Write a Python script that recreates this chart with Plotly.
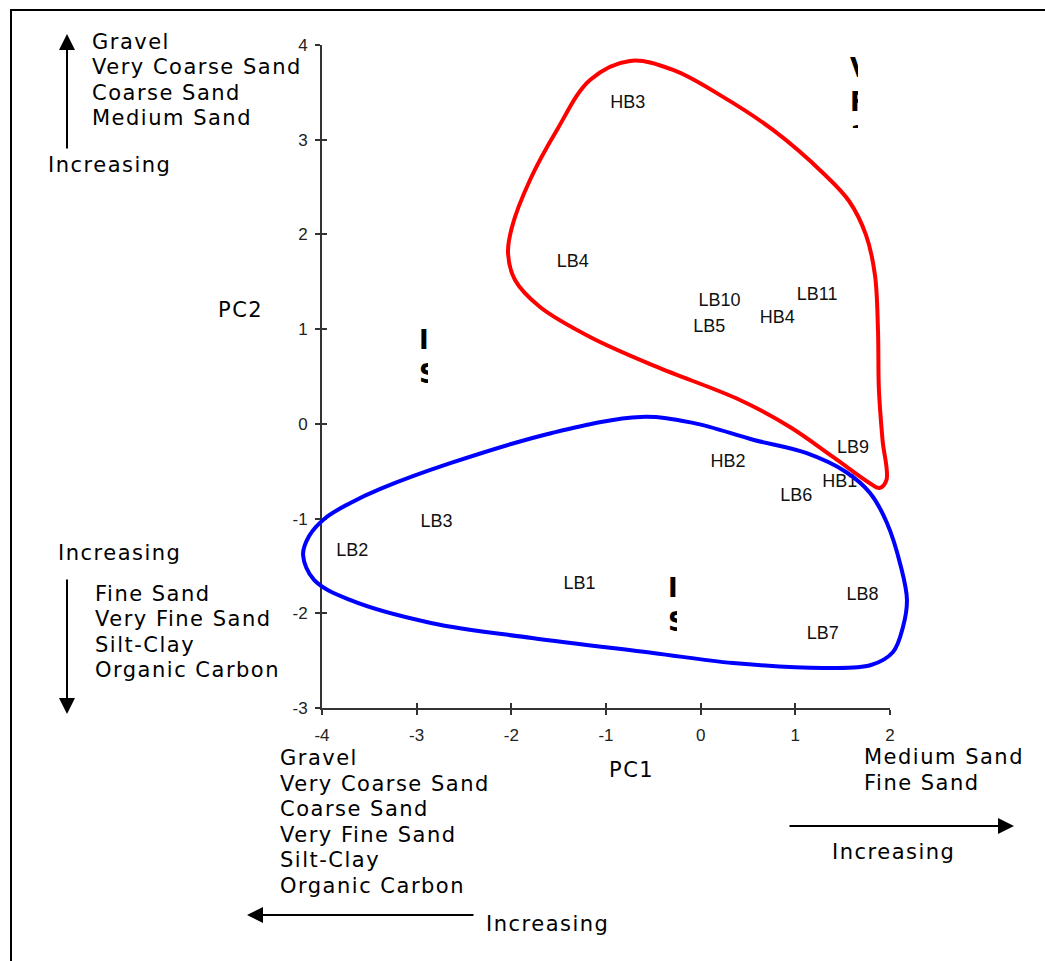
import plotly.graph_objects as go

# ---------------- data ----------------
point_names = ["HB3", "LB4", "LB10", "LB11", "HB4", "LB5", "LB9", "HB2",
               "HB1", "LB6", "LB3", "LB2", "LB1", "LB8", "LB7"]
pc1_scores = [-0.77, -1.35, 0.20, 1.23, 0.81, 0.09, 1.61, 0.29,
              1.47, 1.01, -2.79, -3.68, -1.28, 1.71, 1.29]
pc2_scores = [3.38, 1.70, 1.29, 1.35, 1.11, 1.02, -0.26, -0.41,
              -0.62, -0.77, -1.04, -1.35, -1.70, -1.81, -2.22]

red_outline_x = [-0.746, -0.292, 0.236, 0.764, 1.292, 1.567, 1.746, 1.841, 1.873,
                 1.883, 1.921, 1.963, 1.889, 1.783, 1.398, 0.943, 0.415, -0.462,
                 -1.169, -1.697, -1.961, -2.035, -1.993, -1.803, -1.518, -1.169]
red_outline_y = [3.832, 3.737, 3.452, 3.103, 2.649, 2.353, 1.995, 1.572, 0.991,
                 0.358, -0.170, -0.592, -0.677, -0.624, -0.349, -0.033, 0.252, 0.601,
                 0.918, 1.234, 1.519, 1.804, 2.079, 2.575, 3.103, 3.631]

blue_outline_x = [-0.630, -0.081, 0.563, 1.113, 1.535, 1.789, 1.968, 2.116, 2.179,
                  2.137, 2.032, 1.799, 1.324, 0.341, -0.504, -1.782, -2.849, -3.704,
                  -4.084, -4.200, -4.136, -3.964, -3.700, -3.384, -2.637, -1.570]
blue_outline_y = [0.073, 0.010, -0.170, -0.307, -0.508, -0.730, -1.046, -1.511, -1.859,
                  -2.144, -2.408, -2.546, -2.577, -2.525, -2.419, -2.261, -2.102, -1.859,
                  -1.648, -1.384, -1.184, -0.994, -0.835, -0.687, -0.413, -0.096]

x_ticks = [-4, -3, -2, -1, 0, 1, 2]
y_ticks = [-3, -2, -1, 0, 1, 2, 3, 4]

pc2_up_vars = ["Gravel", "Very Coarse Sand", "Coarse Sand", "Medium Sand"]
pc2_down_vars = ["Fine Sand", "Very Fine Sand", "Silt-Clay", "Organic Carbon"]
pc1_left_vars = ["Gravel", "Very Coarse Sand", "Coarse Sand", "Very Fine Sand",
                 "Silt-Clay", "Organic Carbon"]
pc1_right_vars = ["Medium Sand", "Fine Sand"]

# ---------------- layout geometry (pixels) ----------------
W, H = 1045, 961
PL, PR = 280, 940          # plotting area (paper) left/right
AL, AR = 322, 890          # axis x extent (-4 .. 2)
T, B = 45, 708             # axis y extent (4 .. -3)
XMIN, XMAX = x_ticks[0], x_ticks[-1]
unit = (AR - AL) / (XMAX - XMIN)
wide_range = [XMIN - (AL - PL) / unit, XMAX + (PR - AR) / unit]


def px(xp):
    return (xp - PL) / (PR - PL)


def py(yp):
    return (B - yp) / (B - T)


def spaced(txt, sp=1.5):
    return '<span style="letter-spacing:%spx">%s</span>' % (sp, txt)


LABEL_FONT = dict(family="DejaVu Sans", size=21, color="#000000")
FRAG_FONT = dict(family="DejaVu Sans", size=26, color="#000000", weight="bold")

fig = go.Figure()

# point labels (drawn first so the outlines pass over them)
fig.add_trace(go.Scatter(
    x=pc1_scores, y=pc2_scores, text=point_names, mode="text",
    textposition="middle center",
    textfont=dict(family="Liberation Sans", size=18, color="#111111"),
    cliponaxis=False, showlegend=False, hoverinfo="text"))

# group outlines on a wider (hidden) x axis with identical scale
for xs, ys, col in [(red_outline_x, red_outline_y, "#ff0000"),
                    (blue_outline_x, blue_outline_y, "#0000ff")]:
    fig.add_trace(go.Scatter(
        x=xs + xs[:1], y=ys + ys[:1], mode="lines", xaxis="x3", yaxis="y",
        line=dict(color=col, width=4, shape="spline", smoothing=1.0),
        showlegend=False, hoverinfo="skip"))

# invisible trace for the overlay (inside ticks) axes
fig.add_trace(go.Scatter(x=[None], y=[None], xaxis="x2", yaxis="y2",
                         showlegend=False, hoverinfo="skip"))

axis_common = dict(showgrid=False, zeroline=False, showline=True,
                   linecolor="#333333", linewidth=2, ticks="outside",
                   ticklen=5, tickwidth=1.5, tickcolor="#333333",
                   tickfont=dict(family="Liberation Sans", size=17, color="#222222"),
                   layer="below traces")
inside_common = dict(ticks="inside", ticklen=5, tickwidth=1.5, tickcolor="#333333",
                     showticklabels=False, showline=False, showgrid=False,
                     zeroline=False)

fig.update_layout(
    width=W, height=H,
    margin=dict(l=PL, r=W - PR, t=T, b=H - B, pad=0),
    paper_bgcolor="white", plot_bgcolor="rgba(0,0,0,0)",
    showlegend=False,
    xaxis=dict(domain=[px(AL), px(AR)], range=[XMIN, XMAX], tickvals=x_ticks,
               ticktext=[str(v) for v in x_ticks], ticklabelstandoff=6, **axis_common),
    yaxis=dict(domain=[0, 1], range=[y_ticks[0], y_ticks[-1]], tickvals=y_ticks,
               ticktext=[str(v) for v in y_ticks], ticklabelstandoff=4, anchor="x",
               **axis_common),
    xaxis2=dict(overlaying="x", anchor="y", matches="x", range=[XMIN, XMAX],
                tickvals=x_ticks, **inside_common),
    yaxis2=dict(overlaying="y", anchor="x", side="left", matches="y",
                range=[y_ticks[0], y_ticks[-1]], tickvals=y_ticks, **inside_common),
    xaxis3=dict(domain=[0, 1], range=wide_range, visible=False, anchor="y"),
)

ann = []


def text_ann(txt, xp, yp, anchor="left", font=LABEL_FONT):
    ann.append(dict(text=spaced(txt), x=px(xp), y=py(yp), xref="paper", yref="paper",
                    xanchor=anchor, yanchor="middle", showarrow=False, font=font))


# PC2 variable lists
for i, t in enumerate(pc2_up_vars):
    text_ann(t, 90, 42 + i * 25.3)
text_ann("Increasing", 46, 165)
text_ann("Increasing", 56, 553)
for i, t in enumerate(pc2_down_vars):
    text_ann(t, 93, 594 + i * 25.4)

# PC1 variable lists
for i, t in enumerate(pc1_left_vars):
    text_ann(t, 278, 758 + i * 25.6)
for i, t in enumerate(pc1_right_vars):
    text_ann(t, 862, 757 + i * 26)
text_ann("Increasing", 830, 852)
text_ann("Increasing", 484, 924)

# axis titles
text_ann("PC1", 631, 770, anchor="center")
text_ann("PC2", 240, 310, anchor="center")


# arrows
def arrow(tip, tail):
    ann.append(dict(text="", x=px(tip[0]), y=py(tip[1]), xref="paper", yref="paper",
                    showarrow=True, arrowhead=2, arrowsize=1.6, arrowwidth=2,
                    arrowcolor="#000000", ax=tail[0] - tip[0], ay=tail[1] - tip[1],
                    standoff=0))


arrow((67, 34), (67, 150))
arrow((67, 714), (67, 578))
arrow((1014, 826), (788, 826))
arrow((247, 915), (475, 915))

# clipped text fragments
for txt, xl, yc in [("I<br>S", 416.5, 357), ("I<br>S", 665.5, 605), ("V<br>F<br>1", 847.5, 102)]:
    ann.append(dict(text=txt, x=px(xl), y=py(yc), xref="paper", yref="paper",
                    xanchor="left", yanchor="middle", showarrow=False, align="left",
                    font=FRAG_FONT))
# white masks over the fragments
for xl, yt, w, h in [(428, 320, 40, 75), (677, 568, 40, 75), (858, 50, 40, 90), (840, 128, 35, 30)]:
    ann.append(dict(text=" ", x=px(xl), y=py(yt), xref="paper", yref="paper",
                    xanchor="left", yanchor="top", showarrow=False, width=w, height=h,
                    bgcolor="white", borderpad=0, borderwidth=0))

fig.update_layout(annotations=ann)

# frame (left and top border)
fig.add_shape(type="line", xref="paper", yref="paper", x0=px(11), x1=px(11),
              y0=py(9), y1=py(975), line=dict(color="black", width=2))
fig.add_shape(type="line", xref="paper", yref="paper", x0=px(10), x1=px(1060),
              y0=py(10), y1=py(10), line=dict(color="black", width=2))

fig.write_html("out.html", config={"displayModeBar": False},
               post_script="document.body.style.margin='0px';"
                           "document.body.style.overflow='hidden';")
